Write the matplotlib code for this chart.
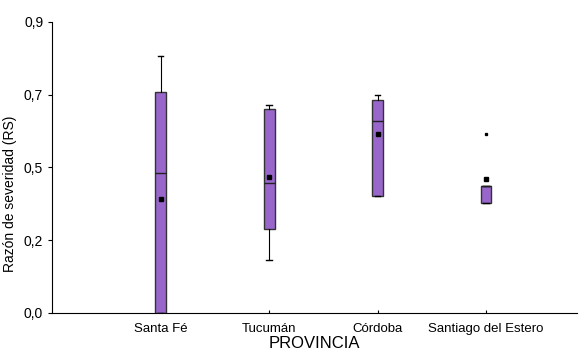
import matplotlib
matplotlib.use("Agg")
import matplotlib.pyplot as plt

plt.rcParams['font.family'] = ['Liberation Sans Narrow', 'Liberation Sans', 'DejaVu Sans']

provincias = ["Santa Fé", "Tucumán", "Córdoba", "Santiago del Estero"]
whisker_low = [0.0, 0.162, 0.360, 0.340]
q1 = [0.0, 0.259, 0.360, 0.340]
medians = [0.432, 0.401, 0.593, 0.391]
q3 = [0.682, 0.630, 0.659, 0.391]
whisker_high = [0.795, 0.643, 0.673, 0.391]
means = [0.353, 0.419, 0.553, 0.415]
outliers = [[], [], [], [0.554]]

ytick_vals = [0.0, 0.225, 0.45, 0.675, 0.9]
ytick_labels = ["0,0", "0,2", "0,5", "0,7", "0,9"]

stats = []
for i, name in enumerate(provincias):
    stats.append(dict(label=name, whislo=whisker_low[i], q1=q1[i], med=medians[i],
                      q3=q3[i], whishi=whisker_high[i], mean=means[i], fliers=outliers[i]))

fig = plt.figure(figsize=(5.8, 3.6), dpi=100)
ax = fig.add_axes([0.09, 0.131, 0.905, 0.808])

ax.bxp(stats, positions=[1, 2, 3, 4], widths=0.1, patch_artist=True, showmeans=True,
       boxprops=dict(facecolor='#9966cc', edgecolor='#333333', linewidth=1.0),
       medianprops=dict(color='#222222', linewidth=1.0),
       whiskerprops=dict(color='black', linewidth=0.8),
       capprops=dict(color='black', linewidth=1.0),
       meanprops=dict(marker='s', markerfacecolor='black', markeredgecolor='black', markersize=2.4),
       flierprops=dict(marker='s', markerfacecolor='black', markeredgecolor='black', markersize=1.4))

ax.set_xlim(0, 4.84)
ax.set_ylim(0, 0.9)
ax.set_yticks(ytick_vals)
ax.set_yticklabels(ytick_labels)
ax.set_xticks([1, 2, 3, 4])
ax.set_xticklabels(provincias)

ax.spines['top'].set_visible(False)
ax.spines['right'].set_visible(False)
ax.tick_params(axis='y', direction='out', length=3, labelsize=10)
ax.tick_params(axis='x', direction='in', length=2, labelsize=9.5, pad=7)

ax.set_ylabel("Razón de severidad (RS)", fontsize=10)
ax.yaxis.set_label_coords(-0.067, 0.41)
ax.set_xlabel("PROVINCIA", fontsize=12, labelpad=1)

fig.savefig("out.png", dpi=100)
